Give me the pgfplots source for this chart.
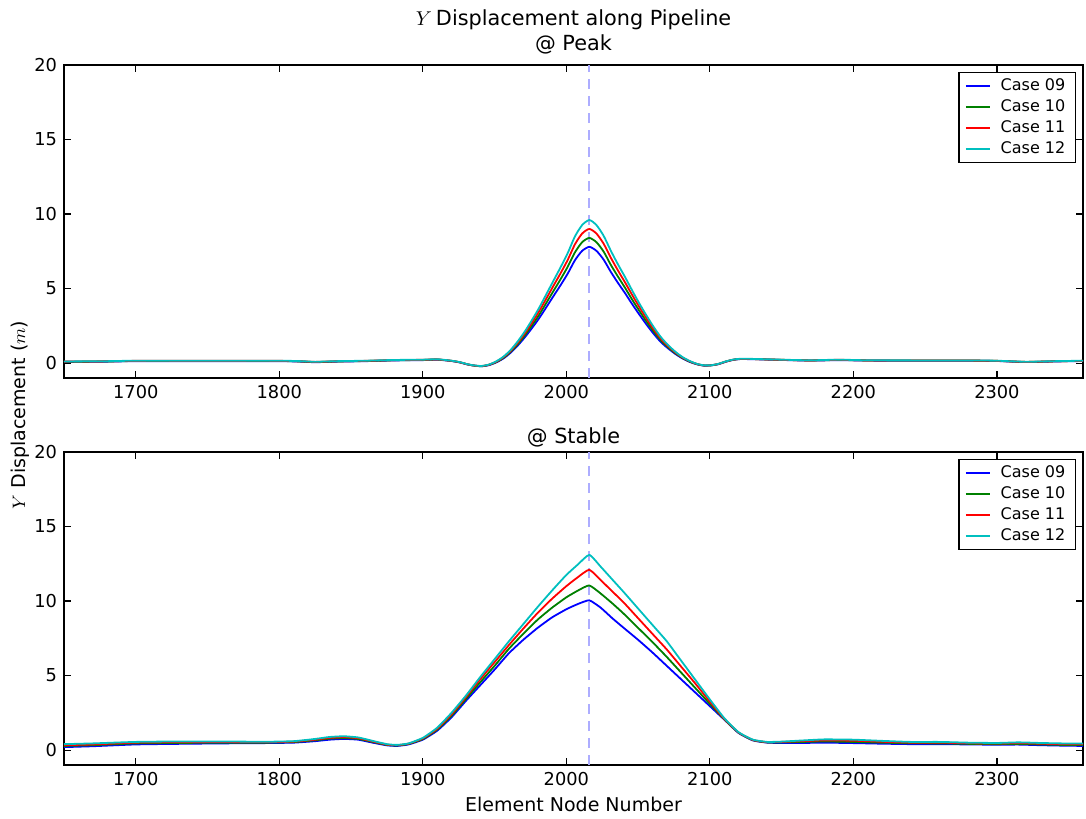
\documentclass[border=0pt]{standalone}
\usepackage{fontspec}
\setmainfont{DejaVu Sans}
\usepackage{pgfplots}
\pgfplotsset{compat=1.18}
\usepackage{pgfplotstable}

\definecolor{mplblue}{rgb}{0,0,1}
\definecolor{mplgreen}{rgb}{0,0.5,0}
\definecolor{mplred}{rgb}{1,0,0}
\definecolor{mplcyan}{rgb}{0,0.75,0.75}
\definecolor{peakline}{rgb}{0.68,0.68,1}

% Y displacement @ Peak: x, case09, case10, case11, case12
\pgfplotstableread{
x a b c d
1650 0.08 0.09 0.10 0.11
1680 0.10 0.11 0.12 0.13
1700 0.13 0.14 0.15 0.16
1750 0.13 0.14 0.15 0.16
1800 0.13 0.14 0.15 0.16
1815 0.10 0.11 0.12 0.13
1825 0.06 0.07 0.08 0.09
1840 0.10 0.11 0.12 0.13
1860 0.13 0.14 0.15 0.16
1880 0.18 0.19 0.20 0.21
1900 0.20 0.21 0.22 0.23
1910 0.23 0.24 0.25 0.26
1920 0.14 0.15 0.15 0.16
1926 0.04 0.05 0.05 0.06
1931 -0.09 -0.08 -0.08 -0.07
1936 -0.17 -0.17 -0.17 -0.16
1941 -0.21 -0.21 -0.20 -0.19
1946 -0.14 -0.12 -0.11 -0.10
1951 0.04 0.06 0.08 0.11
1956 0.30 0.34 0.38 0.42
1961 0.68 0.74 0.80 0.86
1966 1.16 1.25 1.35 1.44
1971 1.72 1.85 1.98 2.11
1976 2.34 2.52 2.70 2.88
1981 3.00 3.23 3.47 3.70
1986 3.74 4.03 4.32 4.61
1991 4.49 4.83 5.18 5.52
1996 5.23 5.63 6.03 6.43
2001 6.01 6.47 6.93 7.39
2006 6.90 7.43 7.97 8.50
2011 7.53 8.11 8.69 9.26
2016 7.80 8.40 9.00 9.60
2021 7.53 8.11 8.69 9.26
2026 6.94 7.48 8.01 8.54
2031 6.12 6.59 7.07 7.54
2036 5.38 5.80 6.21 6.62
2041 4.68 5.04 5.40 5.76
2046 3.94 4.24 4.55 4.85
2051 3.24 3.49 3.74 3.98
2056 2.57 2.77 2.97 3.17
2061 1.95 2.10 2.25 2.40
2066 1.40 1.51 1.62 1.73
2071 0.98 1.05 1.13 1.20
2076 0.61 0.66 0.71 0.76
2081 0.31 0.34 0.37 0.40
2086 0.08 0.10 0.12 0.14
2091 -0.08 -0.07 -0.06 -0.05
2096 -0.17 -0.16 -0.16 -0.15
2101 -0.15 -0.15 -0.14 -0.14
2106 -0.07 -0.06 -0.06 -0.05
2111 0.09 0.10 0.10 0.11
2116 0.21 0.22 0.22 0.23
2121 0.27 0.28 0.28 0.29
2131 0.26 0.27 0.27 0.28
2150 0.21 0.22 0.22 0.23
2170 0.17 0.18 0.18 0.19
2190 0.20 0.21 0.22 0.23
2210 0.17 0.18 0.18 0.19
2250 0.16 0.17 0.17 0.18
2280 0.16 0.17 0.17 0.18
2300 0.14 0.15 0.15 0.16
2320 0.07 0.08 0.08 0.09
2340 0.11 0.12 0.12 0.13
2360 0.14 0.15 0.15 0.16
}\peakdata

% Y displacement @ Stable: x, case09, case10, case11, case12
\pgfplotstableread{
x a b c d
1650 0.20 0.28 0.33 0.40
1670 0.26 0.33 0.38 0.45
1700 0.38 0.45 0.50 0.55
1730 0.42 0.48 0.53 0.58
1760 0.45 0.50 0.54 0.58
1790 0.47 0.50 0.53 0.56
1810 0.50 0.54 0.57 0.60
1825 0.60 0.66 0.70 0.75
1835 0.70 0.77 0.82 0.88
1845 0.75 0.81 0.87 0.93
1855 0.70 0.75 0.80 0.85
1865 0.50 0.55 0.58 0.62
1875 0.32 0.35 0.37 0.40
1882 0.28 0.31 0.33 0.35
1890 0.38 0.41 0.43 0.45
1900 0.70 0.74 0.78 0.82
1910 1.30 1.37 1.43 1.50
1920 2.20 2.30 2.40 2.50
1930 3.30 3.43 3.55 3.65
1940 4.35 4.55 4.75 4.90
1950 5.40 5.65 5.90 6.10
1960 6.50 6.80 7.05 7.30
1970 7.40 7.80 8.15 8.45
1980 8.20 8.75 9.20 9.60
1990 8.90 9.55 10.15 10.70
2000 9.45 10.25 11.00 11.75
2008 9.80 10.70 11.60 12.45
2016 10.05 11.05 12.10 13.10
2024 9.55 10.50 11.40 12.30
2032 8.85 9.85 10.65 11.45
2040 8.20 9.15 9.90 10.60
2050 7.40 8.20 8.85 9.50
2060 6.55 7.25 7.80 8.40
2070 5.65 6.25 6.75 7.30
2080 4.75 5.20 5.60 6.00
2090 3.85 4.15 4.45 4.70
2100 2.95 3.10 3.25 3.40
2110 2.05 2.08 2.10 2.15
2120 1.15 1.17 1.18 1.20
2130 0.65 0.67 0.68 0.70
2140 0.50 0.52 0.53 0.55
2150 0.48 0.52 0.55 0.57
2165 0.48 0.55 0.60 0.65
2180 0.50 0.58 0.65 0.72
2200 0.47 0.55 0.63 0.70
2220 0.43 0.50 0.56 0.62
2240 0.40 0.46 0.50 0.55
2260 0.40 0.45 0.50 0.55
2280 0.38 0.42 0.46 0.50
2300 0.36 0.40 0.44 0.48
2315 0.37 0.42 0.47 0.52
2330 0.33 0.38 0.43 0.48
2345 0.30 0.35 0.40 0.45
2360 0.28 0.34 0.39 0.45
}\stabledata

\pgfplotsset{
  panel/.style={
    width=509.5pt, height=156.5pt, scale only axis,
    xmin=1650, xmax=2360, ymin=-1, ymax=20,
    xtick={1700,1800,...,2300}, ytick={0,5,10,15,20},
    tick align=inside, major tick length=3.5pt,
    axis line style={line width=0.9pt},
    every tick/.style={black, line width=0.6pt},
    tick label style={font=\fontsize{8.9}{10}\selectfont},
    /pgf/number format/assume math mode=true,
    /pgf/number format/1000 sep={},
    title style={font=\fontsize{10.4}{12.5}\selectfont, align=center},
    legend style={at={(1,1)}, anchor=north east, xshift=-3.5pt, yshift=-3.5pt,
      draw=black, line width=0.7pt, font=\fontsize{8}{9}\selectfont,
      inner xsep=3pt, inner ysep=1.5pt, row sep=0pt, column sep=3pt,
      nodes={inner xsep=2pt, inner ysep=1.5pt, text height=6pt, text depth=1.5pt}},
    legend cell align=left,
    legend image code/.code={\draw[#1] (0pt,0pt) -- (12pt,0pt);},
    every axis plot/.append style={line width=0.9pt, line join=round},
  }
}

\begin{document}
\begin{tikzpicture}
\begin{axis}[panel, name=top, at={(0,0)}, anchor=south west,
  title style={yshift=-4pt},
  title={$Y$\hspace{0.2em}Displacement along Pipeline\\@ Peak}]
\addplot[peakline, dash pattern=on 5pt off 3.5pt, line width=1pt, forget plot] coordinates {(2016,-1) (2016,20)};
\addplot[mplblue, smooth, tension=0.4] table[x=x, y=a] {\peakdata};
\addplot[mplgreen, smooth, tension=0.4] table[x=x, y=b] {\peakdata};
\addplot[mplred, smooth, tension=0.4] table[x=x, y=c] {\peakdata};
\addplot[mplcyan, smooth, tension=0.4] table[x=x, y=d] {\peakdata};
\legend{Case 09, Case 10, Case 11, Case 12}
\end{axis}

\begin{axis}[panel, name=bot, at={(0,-193.5pt)}, anchor=south west,
  title style={yshift=-7pt},
  title={@ Stable},
  xlabel={Element Node Number},
  xlabel style={font=\fontsize{9.5}{11}\selectfont, yshift=1pt}]
\addplot[peakline, dash pattern=on 5pt off 3.5pt, line width=1pt, forget plot] coordinates {(2016,-1) (2016,20)};
\addplot[mplblue, smooth, tension=0.3] table[x=x, y=a] {\stabledata};
\addplot[mplgreen, smooth, tension=0.3] table[x=x, y=b] {\stabledata};
\addplot[mplred, smooth, tension=0.3] table[x=x, y=c] {\stabledata};
\addplot[mplcyan, smooth, tension=0.3] table[x=x, y=d] {\stabledata};
\legend{Case 09, Case 10, Case 11, Case 12}
\end{axis}

\node[rotate=90, font=\fontsize{9.5}{11}\selectfont] at (-22pt,-18.5pt) {$Y$ Displacement ($m$)};
\path (-32pt,189pt) rectangle (511pt,-219.5pt);
\end{tikzpicture}
\end{document}
